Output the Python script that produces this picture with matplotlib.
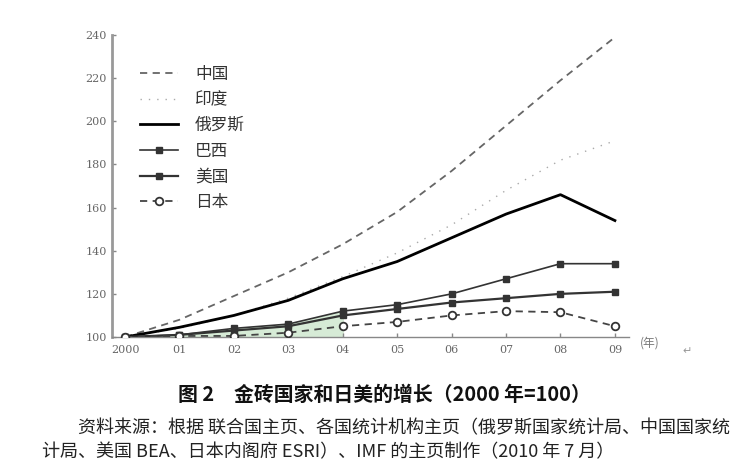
import matplotlib
matplotlib.use('Agg')
import matplotlib.pyplot as plt

# 字体设置
plt.rcParams['font.family'] = ['Noto Sans CJK SC', 'DejaVu Sans']
plt.rcParams['axes.unicode_minus'] = False

# 数据（2000 年=100）
years = list(range(10))
x_labels = ['2000', '01', '02', '03', '04', '05', '06', '07', '08', '09']
y_ticks = [100, 120, 140, 160, 180, 200, 220, 240]

china = [100, 108, 119, 130, 143, 158, 177, 198, 219, 239]
india = [100, 104, 110, 118, 128, 139, 152, 168, 182, 191]
russia = [100, 104.5, 110, 117, 127, 135, 146, 157, 166, 154]
brazil = [100, 101, 104, 106, 112, 115, 120, 127, 134, 134]
usa = [100, 101, 103, 105, 110, 113, 116, 118, 120, 121]
japan = [100, 100.5, 100.5, 102, 105, 107, 110, 112, 111.5, 105]

fig = plt.figure(figsize=(7.44, 4.74), dpi=100)
ax = fig.add_axes([0.1505, 0.289, 0.695, 0.637])

# 浅绿色填充（2000-04）
ax.fill_between(years[:5], [100] * 5, brazil[:5], color='#d6ebd6', zorder=1)

ax.plot(years, china, color='#666666', lw=1.3, dashes=(4, 3), label='中国', zorder=3)
ax.plot(years, india, color='#aaaaaa', lw=1.0, dashes=(1, 5), label='印度', zorder=3)
ax.plot(years, russia, color='black', lw=2.0, label='俄罗斯', zorder=4)
ax.plot(years, brazil, color='#333333', lw=1.2, marker='s', ms=4, label='巴西', zorder=4)
ax.plot(years, usa, color='#333333', lw=1.6, marker='s', ms=5, label='美国', zorder=4)
ax.plot(years, japan, color='#444444', lw=1.3, dashes=(4, 3), marker='o', ms=5.5,
        mfc='white', mec='#333333', mew=1.3, label='日本', zorder=5)

ax.set_xlim(-0.24, 9.26)
ax.set_ylim(100, 240)
ax.set_xticks(years)
ax.set_xticklabels(x_labels)
ax.set_yticks(y_ticks)

for side in ['top', 'right']:
    ax.spines[side].set_visible(False)
ax.spines['left'].set_color('#999999')
ax.spines['left'].set_linewidth(2)
ax.spines['bottom'].set_color('#888888')
ax.spines['bottom'].set_linewidth(1)
ax.tick_params(direction='in', length=3, width=1, color='#888888',
               labelsize=8, labelcolor='#666666')
ax.tick_params(axis='x', pad=6)
for lab in ax.get_xticklabels() + ax.get_yticklabels():
    lab.set_family('DejaVu Serif')

ax.text(9.45, 100, '(年)', fontsize=8.5, color='#777777', va='top', ha='left',
        transform=ax.transData, clip_on=False)
fig.text(0.917, 0.252, '\u21b5', fontsize=8, color='#999999', family='DejaVu Sans')

leg = ax.legend(loc='upper left', bbox_to_anchor=(0.054, 0.898), frameon=False,
                fontsize=12, handlelength=2.3, handletextpad=1.0, labelspacing=0.52,
                borderpad=0, borderaxespad=0)
for t in leg.get_texts():
    t.set_color('#333333')

# 标题与资料来源
fig.text(0.516, 0.167, '图 2　金砖国家和日美的增长（2000 年=100）', ha='center', va='center',
         fontsize=14.3, fontweight='bold', color='#111111')
fig.text(0.105, 0.097, '资料来源：根据 联合国主页、各国统计机构主页（俄罗斯国家统计局、中国国家统',
         ha='left', va='center', fontsize=13, color='#222222')
fig.text(0.056, 0.046, '计局、美国 BEA、日本内阁府 ESRI）、IMF 的主页制作（2010 年 7 月）',
         ha='left', va='center', fontsize=13, color='#222222')

plt.savefig('out.png', dpi=100)
plt.close()
